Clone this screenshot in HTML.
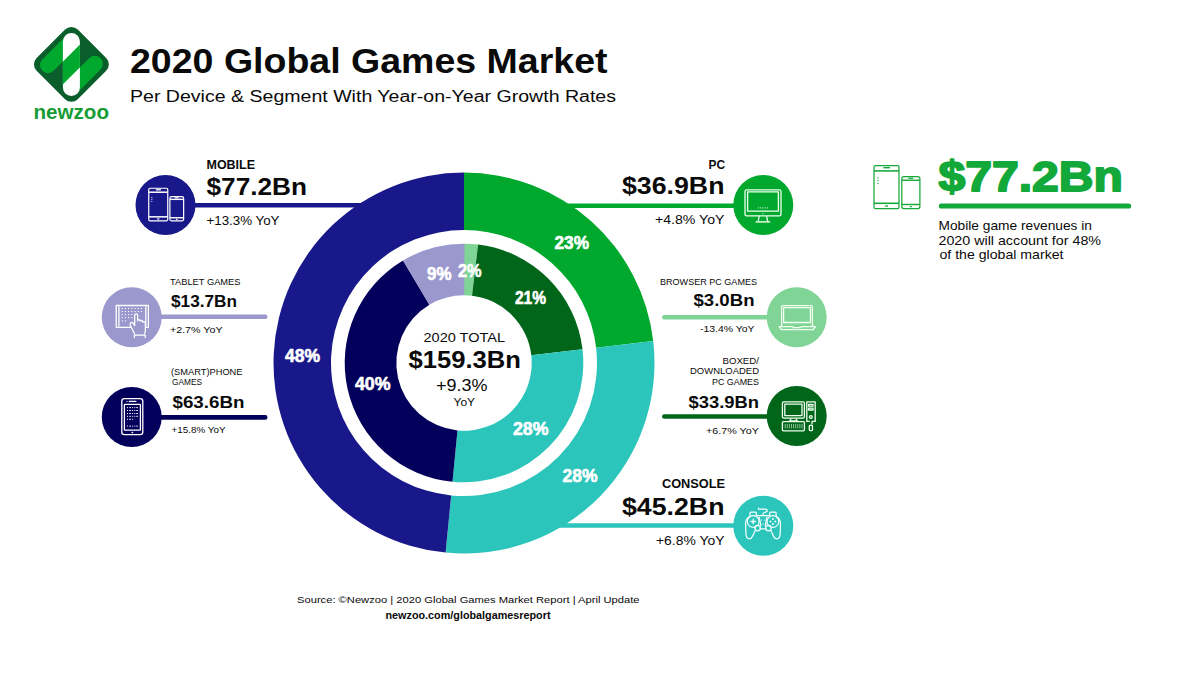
<!DOCTYPE html>
<html><head><meta charset="utf-8"><style>
html,body{margin:0;padding:0;background:#fff;width:1200px;height:674px;overflow:hidden}
svg{display:block;font-family:"Liberation Sans",sans-serif}
</style></head><body>
<svg width="1200" height="674" viewBox="0 0 1200 674">
<rect width="1200" height="674" fill="#fff"/>
<line x1="190" y1="205.3" x2="380" y2="205.3" stroke="#18188a" stroke-width="4.6" stroke-linecap="butt"/><line x1="550" y1="205.8" x2="740" y2="205.8" stroke="#00a82d" stroke-width="4.6" stroke-linecap="butt"/><line x1="155" y1="316.8" x2="265.2" y2="316.8" stroke="#9a98cc" stroke-width="4.6" stroke-linecap="round"/><line x1="155" y1="417.4" x2="265.2" y2="417.4" stroke="#02005a" stroke-width="4.6" stroke-linecap="round"/><line x1="664.3" y1="317.2" x2="780" y2="317.2" stroke="#80d496" stroke-width="4.6" stroke-linecap="round"/><line x1="664.3" y1="416.5" x2="780" y2="416.5" stroke="#016619" stroke-width="4.6" stroke-linecap="round"/><line x1="540" y1="525.5" x2="740" y2="525.5" stroke="#2cc5bb" stroke-width="4.6" stroke-linecap="butt"/>
<path d="M464.00,172.50 A190.5,190.5 0 0 1 653.23,341.07 L596.12,347.69 A133.0,133.0 0 0 0 464.00,230.00 Z" fill="#00a82d"/><path d="M653.23,341.07 A190.5,190.5 0 0 1 445.62,552.61 L451.17,495.38 A133.0,133.0 0 0 0 596.12,347.69 Z" fill="#2cc5bb"/><path d="M445.62,552.61 A190.5,190.5 0 0 1 464.00,172.50 L464.00,230.00 A133.0,133.0 0 0 0 451.17,495.38 Z" fill="#18188a"/><path d="M464.00,243.70 A119.3,119.3 0 0 1 478.08,244.53 L471.99,295.77 A67.7,67.7 0 0 0 464.00,295.30 Z" fill="#80d496"/><path d="M478.08,244.53 A119.3,119.3 0 0 1 582.51,349.27 L531.25,355.21 A67.7,67.7 0 0 0 471.99,295.77 Z" fill="#016619"/><path d="M582.51,349.27 A119.3,119.3 0 0 1 452.49,481.74 L457.47,430.38 A67.7,67.7 0 0 0 531.25,355.21 Z" fill="#2cc5bb"/><path d="M452.49,481.74 A119.3,119.3 0 0 1 403.03,260.46 L429.40,304.81 A67.7,67.7 0 0 0 457.47,430.38 Z" fill="#02005a"/><path d="M403.03,260.46 A119.3,119.3 0 0 1 464.47,243.70 L464.27,295.30 A67.7,67.7 0 0 0 429.40,304.81 Z" fill="#9a98cc"/>
<circle cx="165.5" cy="205" r="30" fill="#18188a"/><circle cx="131.75" cy="317.25" r="30" fill="#9a98cc"/><circle cx="131.75" cy="417" r="30" fill="#02005a"/><circle cx="763.3" cy="205" r="30" fill="#00a82d"/><circle cx="796.7" cy="317.25" r="30" fill="#80d496"/><circle cx="796.7" cy="416" r="30" fill="#016619"/><circle cx="763.3" cy="525.8" r="30" fill="#2cc5bb"/>
<g>
<rect x="42.3" y="35.3" width="58.2" height="58.2" rx="9" transform="rotate(45 71.4 64.4)" fill="#0a5e2c"/>
<line x1="48" y1="65.1" x2="71.4" y2="41.7" stroke="#00a82d" stroke-width="16.1" stroke-linecap="round"/>
<line x1="71.4" y1="87.3" x2="94.8" y2="63.9" stroke="#00a82d" stroke-width="16.1" stroke-linecap="round"/>
<rect x="62.9" y="33" width="17" height="63" rx="8.5" fill="#fff"/>
<clipPath id="wp"><rect x="62.9" y="33" width="17" height="63" rx="8.5"/></clipPath>
<polygon clip-path="url(#wp)" points="62,62.5 81,43.5 81,66.3 62,85.3" fill="#00a82d"/>
</g>
<g transform="translate(148.3 187.8) scale(0.76)" fill="none" stroke="#ffffff" stroke-width="1.58">
<rect x="0.6" y="0.6" width="25" height="42.8" rx="1.6"/>
<line x1="0.6" y1="5.8" x2="25.6" y2="5.8" stroke-width="1.97"/>
<line x1="10" y1="2.6" x2="16.6" y2="2.6" stroke-width="1.74"/>
<line x1="0.6" y1="38.2" x2="25.6" y2="38.2" stroke-width="1.97"/>
<line x1="11.6" y1="40.9" x2="14.6" y2="40.9"/>
<line x1="4.6" y1="12.5" x2="4.6" y2="13.5"/><line x1="4.6" y1="15" x2="4.6" y2="16"/><line x1="4.6" y1="17.8" x2="4.6" y2="18.8"/>
<rect x="28.4" y="11.6" width="18.1" height="31.8" rx="2"/>
<line x1="28.4" y1="15.2" x2="46.5" y2="15.2" stroke-width="1.82"/>
<line x1="34.9" y1="13.2" x2="39.9" y2="13.2"/>
<line x1="28.4" y1="39.4" x2="46.5" y2="39.4" stroke-width="1.82"/>
<line x1="36.4" y1="41.5" x2="38.4" y2="41.5"/>
</g><g fill="none" stroke="#ffffff" stroke-width="1.3" stroke-linejoin="round" stroke-linecap="round">
<path d="M131,327.3 H116.2 V305.5 H148.4 V327.3 H146.3"/>
<line x1="118.9" y1="306.8" x2="118.9" y2="326"/>
<line x1="145.8" y1="306.8" x2="145.8" y2="326"/>
<path d="M134.6,333.8 L130.4,325.8 Q129.6,324 130.6,322.8 Q131.8,321.8 133,323.2 L134.7,325.6 V315.3 Q134.7,313.8 136.15,313.8 Q137.6,313.8 137.6,315.3 V320.8 Q137.6,319.6 138.9,319.6 Q140,319.6 140.1,320.9 V321.2 Q140.2,320.3 141.4,320.3 Q142.5,320.4 142.6,321.6 V322.2 Q142.8,321.5 143.9,321.6 Q145.3,321.8 145.4,323.4 V330 Q145.3,332.2 144.4,333.8"/>
<path d="M134.4,337.6 V335.2 H145.2 V337.6"/>
</g>
<g fill="#ffffff"><rect x="121.65" y="307.95" width="1.1" height="1.1"/><rect x="124.85" y="307.95" width="1.1" height="1.1"/><rect x="128.05" y="307.95" width="1.1" height="1.1"/><rect x="131.25" y="307.95" width="1.1" height="1.1"/><rect x="134.45" y="307.95" width="1.1" height="1.1"/><rect x="137.65" y="307.95" width="1.1" height="1.1"/><rect x="140.85" y="307.95" width="1.1" height="1.1"/><rect x="121.65" y="310.95" width="1.1" height="1.1"/><rect x="124.85" y="310.95" width="1.1" height="1.1"/><rect x="128.05" y="310.95" width="1.1" height="1.1"/><rect x="131.25" y="310.95" width="1.1" height="1.1"/><rect x="134.45" y="310.95" width="1.1" height="1.1"/><rect x="137.65" y="310.95" width="1.1" height="1.1"/><rect x="140.85" y="310.95" width="1.1" height="1.1"/><rect x="121.65" y="314.05" width="1.1" height="1.1"/><rect x="124.85" y="314.05" width="1.1" height="1.1"/><rect x="128.05" y="314.05" width="1.1" height="1.1"/><rect x="131.25" y="314.05" width="1.1" height="1.1"/><rect x="121.65" y="317.15" width="1.1" height="1.1"/><rect x="124.85" y="317.15" width="1.1" height="1.1"/><rect x="128.05" y="317.15" width="1.1" height="1.1"/><rect x="131.25" y="317.15" width="1.1" height="1.1"/><rect x="121.65" y="320.35" width="1.1" height="1.1"/><rect x="124.85" y="320.35" width="1.1" height="1.1"/></g><g fill="none" stroke="#ffffff" stroke-width="1.3">
<rect x="121.8" y="398.6" width="21" height="36" rx="2.6"/>
<rect x="124.4" y="404.3" width="16" height="25.8" rx="0.4"/>
<line x1="128.8" y1="401.4" x2="136.4" y2="401.4"/>
<line x1="131.5" y1="432.5" x2="133.2" y2="432.5"/>
</g>
<g fill="#ffffff"><rect x="126.5" y="400.9" width="1" height="1"/><rect x="127.00" y="407.10" width="1.0" height="1.0"/><rect x="129.30" y="407.10" width="1.6" height="1.0"/><rect x="132.10" y="407.10" width="1.0" height="1.0"/><rect x="134.30" y="407.10" width="1.0" height="1.0"/><rect x="136.30" y="407.10" width="1.6" height="1.0"/><rect x="127.00" y="410.00" width="1.0" height="1.0"/><rect x="129.30" y="410.00" width="1.6" height="1.0"/><rect x="132.10" y="410.00" width="1.0" height="1.0"/><rect x="134.30" y="410.00" width="1.0" height="1.0"/><rect x="136.30" y="410.00" width="1.6" height="1.0"/><rect x="127.00" y="413.00" width="1.0" height="1.0"/><rect x="129.30" y="413.00" width="1.6" height="1.0"/><rect x="132.10" y="413.00" width="1.0" height="1.0"/><rect x="134.30" y="413.00" width="1.0" height="1.0"/><rect x="136.30" y="413.00" width="1.6" height="1.0"/><rect x="127.00" y="415.80" width="1.0" height="1.0"/><rect x="129.30" y="415.80" width="1.6" height="1.0"/><rect x="132.10" y="415.80" width="1.0" height="1.0"/><rect x="134.30" y="415.80" width="1.0" height="1.0"/><rect x="136.30" y="415.80" width="1.6" height="1.0"/><rect x="127.00" y="418.80" width="1.0" height="1.0"/><rect x="129.30" y="418.80" width="1.6" height="1.0"/><rect x="132.10" y="418.80" width="1.0" height="1.0"/><rect x="127.00" y="425.60" width="1.0" height="1.0"/><rect x="129.30" y="425.60" width="1.6" height="1.0"/><rect x="132.10" y="425.60" width="1.0" height="1.0"/><rect x="134.30" y="425.60" width="1.0" height="1.0"/><rect x="136.30" y="425.60" width="1.6" height="1.0"/></g><g fill="none" stroke="#f0fff0" stroke-width="1.3" stroke-linejoin="round">
<rect x="745" y="189.9" width="36" height="26" rx="1.6"/>
<rect x="747.6" y="191.9" width="30.8" height="19.2"/>
<path d="M759.2,216 L758.2,221.2 M766.6,216 L767.6,221.2"/>
<line x1="755.6" y1="221.9" x2="770.2" y2="221.9" stroke-width="1.4"/>
</g>
<g fill="#f0fff0"><rect x="757.90" y="207.4" width="1" height="1"/><rect x="760.20" y="207.4" width="1" height="1"/><rect x="762.50" y="207.4" width="1" height="1"/><rect x="764.80" y="207.4" width="1" height="1"/><rect x="767.10" y="207.4" width="1" height="1"/><rect x="762.5" y="213.1" width="1" height="1"/></g><g fill="none" stroke="#f0fff0" stroke-width="1.3" stroke-linejoin="round">
<path d="M781.6,326.2 V307 Q781.6,305.6 783,305.6 H811 Q812.4,305.6 812.4,307 V326.2"/>
<rect x="783.6" y="307.6" width="26.8" height="14.9"/>
<path d="M779.2,326.6 H792.6 L793.4,327.6 H800.6 L801.4,326.6 H815.4 L813.2,329.6 H781.4 Z"/>
</g>
<g fill="#f0fff0"><rect x="791.95" y="322.1" width="0.9" height="0.9"/><rect x="794.05" y="322.1" width="0.9" height="0.9"/><rect x="796.15" y="322.1" width="0.9" height="0.9"/><rect x="798.25" y="322.1" width="0.9" height="0.9"/><rect x="800.35" y="322.1" width="0.9" height="0.9"/></g><g fill="none" stroke="#f0fff0" stroke-width="1.3" stroke-linejoin="round">
<rect x="782.4" y="401.8" width="22" height="16.4" rx="1.4"/>
<rect x="784.8" y="404.2" width="17.2" height="11.4"/>
<path d="M790.6,418.4 V420.8 M796.4,418.4 V420.8 M788.8,420.9 H798.2"/>
<rect x="782.4" y="421.6" width="22" height="9.2" rx="1"/>
<path d="M809.8,421.4 H806.8 V401.8 H815.2 V421.4 H812 V424.6"/>
<rect x="808.6" y="404.4" width="4.4" height="1.8"/>
<rect x="808.6" y="408.2" width="4.4" height="1.8"/>
<circle cx="810.8" cy="417" r="1.4"/>
<rect x="809.3" y="425.4" width="3.2" height="5.2" rx="0.8"/>
</g>
<g fill="none" stroke="#f0fff0" stroke-width="0.6"><line x1="785.20" y1="424" x2="785.20" y2="428.4"/><line x1="787.30" y1="424" x2="787.30" y2="428.4"/><line x1="789.40" y1="424" x2="789.40" y2="428.4"/><line x1="791.50" y1="424" x2="791.50" y2="428.4"/><line x1="793.60" y1="424" x2="793.60" y2="428.4"/><line x1="795.70" y1="424" x2="795.70" y2="428.4"/><line x1="797.80" y1="424" x2="797.80" y2="428.4"/><line x1="799.90" y1="424" x2="799.90" y2="428.4"/><line x1="802.00" y1="424" x2="802.00" y2="428.4"/></g><g fill="none" stroke="#f2fffd" stroke-width="1.25" stroke-linejoin="round" stroke-linecap="round">
<path d="M750,515.6 V513.2 Q750,512.2 751,512.2 H755.4 Q756.4,512.2 756.4,513.2 V515.6"/>
<path d="M769.7,515.6 V513.2 Q769.7,512.2 770.7,512.2 H775.1 Q776.1,512.2 776.1,513.2 V515.6"/>
<path d="M756.4,515.7 H769.7"/>
<circle cx="753.2" cy="521.5" r="5.9"/>
<circle cx="772.9" cy="521.5" r="5.9"/>
<circle cx="757.6" cy="528.1" r="2.75"/>
<circle cx="768.5" cy="528.1" r="2.75"/>
<path d="M750.2,516.3 C747.2,517.4 745.6,520.4 745.6,524.2 L745.9,533.2 Q746.1,538.8 749.4,538.8 Q751.5,538.8 752.7,536 L755.2,530.6"/>
<path d="M775.9,516.3 C778.9,517.4 780.5,520.4 780.5,524.2 L780.2,533.2 Q780,538.8 776.7,538.8 Q774.6,538.8 773.4,536 L770.9,530.6"/>
<path d="M760.3,528.8 H765.8"/>
<path d="M759.2,517.2 L760.9,525.8 M766.9,517.2 L765.2,525.8"/>
<path d="M763,515.6 V514 Q763,512.8 764.5,512.5 Q767.2,511.9 767.2,510.5 Q767,509.1 765.5,509.1 H759 Q758.4,509.1 758.4,508.2"/>
<path d="M751,521.5 H755.4 M753.2,519.3 V523.7" stroke-width="1.3"/>
</g>
<g fill="#f2fffd">
<circle cx="772.9" cy="519.1" r="1"/><circle cx="772.9" cy="523.9" r="1"/>
<circle cx="770.5" cy="521.5" r="1"/><circle cx="775.3" cy="521.5" r="1"/>
<rect x="761" y="519.6" width="1" height="1"/><rect x="764.2" y="519.6" width="1" height="1"/>
<rect x="762.3" y="523.6" width="1.6" height="0.9"/>
</g><g transform="translate(873.4 165.1) scale(1.0)" fill="none" stroke="#17a83a" stroke-width="1.25">
<rect x="0.6" y="0.6" width="25" height="42.8" rx="1.6"/>
<line x1="0.6" y1="5.8" x2="25.6" y2="5.8" stroke-width="1.56"/>
<line x1="10" y1="2.6" x2="16.6" y2="2.6" stroke-width="1.38"/>
<line x1="0.6" y1="38.2" x2="25.6" y2="38.2" stroke-width="1.56"/>
<line x1="11.6" y1="40.9" x2="14.6" y2="40.9"/>
<line x1="4.6" y1="12.5" x2="4.6" y2="13.5"/><line x1="4.6" y1="15" x2="4.6" y2="16"/><line x1="4.6" y1="17.8" x2="4.6" y2="18.8"/>
<rect x="28.4" y="11.6" width="18.1" height="31.8" rx="2"/>
<line x1="28.4" y1="15.2" x2="46.5" y2="15.2" stroke-width="1.44"/>
<line x1="34.9" y1="13.2" x2="39.9" y2="13.2"/>
<line x1="28.4" y1="39.4" x2="46.5" y2="39.4" stroke-width="1.44"/>
<line x1="36.4" y1="41.5" x2="38.4" y2="41.5"/>
</g>
<line x1="941.4" y1="206" x2="1128.6" y2="206" stroke="#12a83a" stroke-width="5.2" stroke-linecap="round"/>
<g font-family="Liberation Sans, sans-serif">
<text x="130.00" y="73" font-size="35.3" font-weight="bold" fill="#0a0a0a" textLength="477.50" lengthAdjust="spacingAndGlyphs">2020 Global Games Market</text>
<text x="130.00" y="101.8" font-size="15.8" font-weight="normal" fill="#0a0a0a" textLength="486.01" lengthAdjust="spacingAndGlyphs">Per Device &amp; Segment With Year-on-Year Growth Rates</text>
<text x="206.50" y="168.6" font-size="12.1" font-weight="bold" fill="#0a0a0a" textLength="48.51" lengthAdjust="spacingAndGlyphs">MOBILE</text>
<text x="206.50" y="194.8" font-size="24.7" font-weight="bold" fill="#0a0a0a" textLength="100.51" lengthAdjust="spacingAndGlyphs">$77.2Bn</text>
<text x="206.49" y="225.3" font-size="12.5" font-weight="normal" fill="#0a0a0a" textLength="73.03" lengthAdjust="spacingAndGlyphs">+13.3% YoY</text>
<text x="170.00" y="284.9" font-size="8.4" font-weight="normal" fill="#0a0a0a" textLength="70.51" lengthAdjust="spacingAndGlyphs">TABLET GAMES</text>
<text x="171.00" y="306.8" font-size="17.4" font-weight="bold" fill="#0a0a0a" textLength="66.00" lengthAdjust="spacingAndGlyphs">$13.7Bn</text>
<text x="169.98" y="332.8" font-size="9.0" font-weight="normal" fill="#0a0a0a" textLength="52.54" lengthAdjust="spacingAndGlyphs">+2.7% YoY</text>
<text x="171.00" y="374.8" font-size="8.4" font-weight="normal" fill="#0a0a0a" textLength="71.50" lengthAdjust="spacingAndGlyphs">(SMART)PHONE</text>
<text x="171.99" y="384.9" font-size="8.4" font-weight="normal" fill="#0a0a0a" textLength="30.03" lengthAdjust="spacingAndGlyphs">GAMES</text>
<text x="172.49" y="408.1" font-size="17.4" font-weight="bold" fill="#0a0a0a" textLength="72.01" lengthAdjust="spacingAndGlyphs">$63.6Bn</text>
<text x="171.47" y="432.9" font-size="9.0" font-weight="normal" fill="#0a0a0a" textLength="54.03" lengthAdjust="spacingAndGlyphs">+15.8% YoY</text>
<text x="708.47" y="168.6" font-size="12.1" font-weight="bold" fill="#0a0a0a" textLength="16.53" lengthAdjust="spacingAndGlyphs">PC</text>
<text x="622.00" y="194" font-size="24.7" font-weight="bold" fill="#0a0a0a" textLength="102.51" lengthAdjust="spacingAndGlyphs">$36.9Bn</text>
<text x="654.99" y="223.5" font-size="12.5" font-weight="normal" fill="#0a0a0a" textLength="69.52" lengthAdjust="spacingAndGlyphs">+4.8% YoY</text>
<text x="660.00" y="285.1" font-size="8.4" font-weight="normal" fill="#0a0a0a" textLength="97.00" lengthAdjust="spacingAndGlyphs">BROWSER PC GAMES</text>
<text x="693.50" y="306.3" font-size="17.4" font-weight="bold" fill="#0a0a0a" textLength="61.01" lengthAdjust="spacingAndGlyphs">$3.0Bn</text>
<text x="699.99" y="331.7" font-size="9.0" font-weight="normal" fill="#0a0a0a" textLength="54.52" lengthAdjust="spacingAndGlyphs">-13.4% YoY</text>
<text x="722.48" y="364" font-size="8.4" font-weight="normal" fill="#0a0a0a" textLength="36.52" lengthAdjust="spacingAndGlyphs">BOXED/</text>
<text x="689.99" y="374.2" font-size="8.4" font-weight="normal" fill="#0a0a0a" textLength="69.01" lengthAdjust="spacingAndGlyphs">DOWNLOADED</text>
<text x="711.99" y="384.6" font-size="8.4" font-weight="normal" fill="#0a0a0a" textLength="47.01" lengthAdjust="spacingAndGlyphs">PC GAMES</text>
<text x="688.49" y="407.5" font-size="17.4" font-weight="bold" fill="#0a0a0a" textLength="70.51" lengthAdjust="spacingAndGlyphs">$33.9Bn</text>
<text x="705.99" y="433.6" font-size="9.0" font-weight="normal" fill="#0a0a0a" textLength="53.01" lengthAdjust="spacingAndGlyphs">+6.7% YoY</text>
<text x="661.99" y="487.8" font-size="12.1" font-weight="bold" fill="#0a0a0a" textLength="63.01" lengthAdjust="spacingAndGlyphs">CONSOLE</text>
<text x="622.00" y="515.1" font-size="24.7" font-weight="bold" fill="#0a0a0a" textLength="102.51" lengthAdjust="spacingAndGlyphs">$45.2Bn</text>
<text x="655.99" y="545.4" font-size="12.5" font-weight="normal" fill="#0a0a0a" textLength="68.51" lengthAdjust="spacingAndGlyphs">+6.8% YoY</text>
<text x="423.49" y="341.7" font-size="11.9" font-weight="normal" fill="#0a0a0a" textLength="81.51" lengthAdjust="spacingAndGlyphs">2020 TOTAL</text>
<text x="408.50" y="367.9" font-size="24.4" font-weight="bold" fill="#0a0a0a" textLength="112.51" lengthAdjust="spacingAndGlyphs">$159.3Bn</text>
<text x="435.99" y="391.3" font-size="15.8" font-weight="normal" fill="#0a0a0a" textLength="51.52" lengthAdjust="spacingAndGlyphs">+9.3%</text>
<text x="453.50" y="405.9" font-size="10.6" font-weight="normal" fill="#0a0a0a" textLength="21.52" lengthAdjust="spacingAndGlyphs">YoY</text>
<text x="554.47" y="248.5" font-size="17.5" font-weight="bold" fill="#ffffff" textLength="34.55" lengthAdjust="spacingAndGlyphs" stroke="#ffffff" stroke-width="0.6" stroke-linejoin="round">23%</text>
<text x="427.00" y="279.5" font-size="17.5" font-weight="bold" fill="#ffffff" textLength="24.54" lengthAdjust="spacingAndGlyphs" stroke="#ffffff" stroke-width="0.6" stroke-linejoin="round">9%</text>
<text x="457.96" y="276.8" font-size="17.5" font-weight="bold" fill="#ffffff" textLength="23.60" lengthAdjust="spacingAndGlyphs" stroke="#ffffff" stroke-width="0.6" stroke-linejoin="round">2%</text>
<text x="514.98" y="303.6" font-size="17.5" font-weight="bold" fill="#ffffff" textLength="31.05" lengthAdjust="spacingAndGlyphs" stroke="#ffffff" stroke-width="0.6" stroke-linejoin="round">21%</text>
<text x="284.95" y="362" font-size="17.5" font-weight="bold" fill="#ffffff" textLength="35.08" lengthAdjust="spacingAndGlyphs" stroke="#ffffff" stroke-width="0.6" stroke-linejoin="round">48%</text>
<text x="354.95" y="390" font-size="17.5" font-weight="bold" fill="#ffffff" textLength="35.59" lengthAdjust="spacingAndGlyphs" stroke="#ffffff" stroke-width="0.6" stroke-linejoin="round">40%</text>
<text x="513.00" y="434.9" font-size="17.5" font-weight="bold" fill="#ffffff" textLength="35.50" lengthAdjust="spacingAndGlyphs" stroke="#ffffff" stroke-width="0.6" stroke-linejoin="round">28%</text>
<text x="562.49" y="482.4" font-size="17.5" font-weight="bold" fill="#ffffff" textLength="35.02" lengthAdjust="spacingAndGlyphs" stroke="#ffffff" stroke-width="0.6" stroke-linejoin="round">28%</text>
<text x="938.50" y="191.1" font-size="42" font-weight="bold" fill="#12a83a" textLength="184.50" lengthAdjust="spacingAndGlyphs" stroke="#12a83a" stroke-width="1.8" stroke-linejoin="round">$77.2Bn</text>
<text x="938.49" y="230" font-size="12.6" font-weight="normal" fill="#0a0a0a" textLength="153.51" lengthAdjust="spacingAndGlyphs">Mobile game revenues in</text>
<text x="938.49" y="245" font-size="12.6" font-weight="normal" fill="#0a0a0a" textLength="162.51" lengthAdjust="spacingAndGlyphs">2020 will account for 48%</text>
<text x="939.50" y="259.25" font-size="12.6" font-weight="normal" fill="#0a0a0a" textLength="124.01" lengthAdjust="spacingAndGlyphs">of the global market</text>
<text x="297.00" y="603.2" font-size="9.4" font-weight="normal" fill="#0a0a0a" textLength="342.50" lengthAdjust="spacingAndGlyphs">Source: ©Newzoo | 2020 Global Games Market Report | April Update</text>
<text x="385.50" y="619.4" font-size="10.5" font-weight="bold" fill="#0a0a0a" textLength="165.00" lengthAdjust="spacingAndGlyphs">newzoo.com/globalgamesreport</text>
<text x="33.49" y="118.5" font-size="19.9" font-weight="bold" fill="#169c34" textLength="75.51" lengthAdjust="spacingAndGlyphs">newzoo</text>
</g>
</svg>
</body></html>
